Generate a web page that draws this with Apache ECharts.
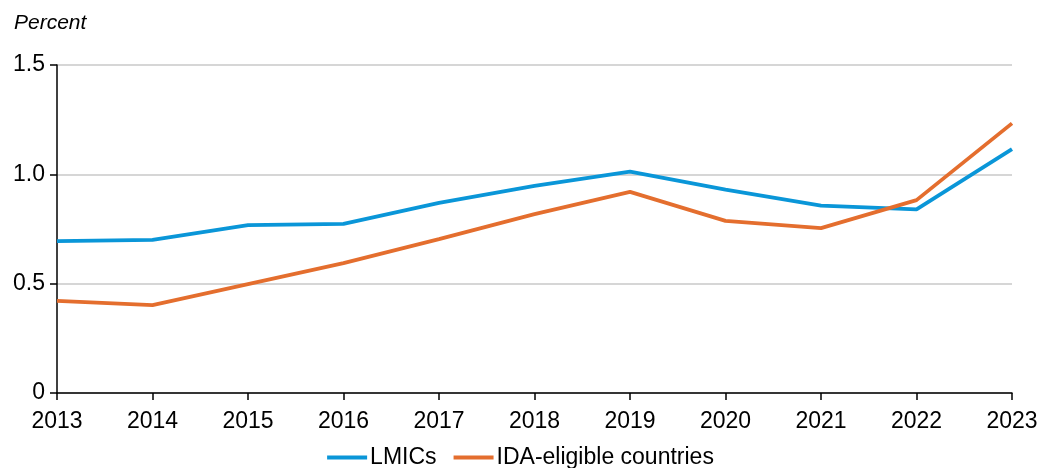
<!DOCTYPE html>
<html>
<head>
<meta charset="utf-8">
<script src="https://cdn.jsdelivr.net/npm/echarts@6/dist/echarts.min.js"></script>
<style>
  html, body { margin: 0; padding: 0; background: #fff; }
  #chart { width: 1041px; height: 468px; }
</style>
</head>
<body>
<div id="chart"></div>
<script>
  // data
  var years = ['2013', '2014', '2015', '2016', '2017', '2018', '2019', '2020', '2021', '2022', '2023'];
  var lmics = [0.695, 0.700, 0.768, 0.773, 0.869, 0.947, 1.012, 0.930, 0.857, 0.840, 1.115];
  var idaEligible = [0.421, 0.402, 0.498, 0.594, 0.704, 0.818, 0.920, 0.787, 0.754, 0.882, 1.233];
  var yTicks = [0, 0.5, 1.0, 1.5];

  var myChart = echarts.init(document.getElementById('chart'));
  var option = {
    backgroundColor: '#fff',
    animation: false,
    textStyle: { fontFamily: 'Liberation Sans, Arial, sans-serif' },
    title: {
      text: 'Percent',
      left: 9,
      top: 8,
      textStyle: { fontSize: 21, fontStyle: 'italic', fontWeight: 'normal', color: '#000' }
    },
    legend: {
      top: 446,
      left: 'center',
      padding: 0,
      itemWidth: 40,
      itemHeight: 4,
      itemGap: 17,
      icon: 'rect',
      textStyle: { fontSize: 23, color: '#000', padding: [0, 0, 0, -2] },
      data: ['LMICs', 'IDA-eligible countries']
    },
    grid: { left: 57, right: 29, top: 65, bottom: 75 },
    xAxis: {
      type: 'category',
      data: years,
      boundaryGap: false,
      axisLine: { lineStyle: { color: '#000', width: 1.5 } },
      axisTick: { show: true, length: 7, lineStyle: { color: '#000', width: 1.5 } },
      axisLabel: { fontSize: 23, color: '#000', margin: 17 },
      splitLine: { show: false }
    },
    yAxis: {
      type: 'value',
      min: 0,
      max: 1.5,
      interval: 0.5,
      axisLine: { show: true, lineStyle: { color: '#000', width: 1.5 } },
      axisTick: { show: true, length: 7, lineStyle: { color: '#000', width: 1.5 } },
      axisLabel: {
        fontSize: 23,
        color: '#000',
        margin: 12,
        formatter: function (v) {
          return yTicks.indexOf(v) === 0 ? '0' : v.toFixed(1);
        }
      },
      splitLine: { show: true, lineStyle: { color: '#c8c8c8', width: 1.5 } }
    },
    series: [{
      name: 'LMICs',
      type: 'line',
      data: lmics,
      symbol: 'none',
      lineStyle: { color: '#0a96d8', width: 3.8 },
      itemStyle: { color: '#0a96d8' },
      z: 3
    }, {
      name: 'IDA-eligible countries',
      type: 'line',
      data: idaEligible,
      symbol: 'none',
      lineStyle: { color: '#e46e2e', width: 3.8 },
      itemStyle: { color: '#e46e2e' },
      z: 4
    }]
  };
  myChart.setOption(option);
</script>
</body>
</html>
